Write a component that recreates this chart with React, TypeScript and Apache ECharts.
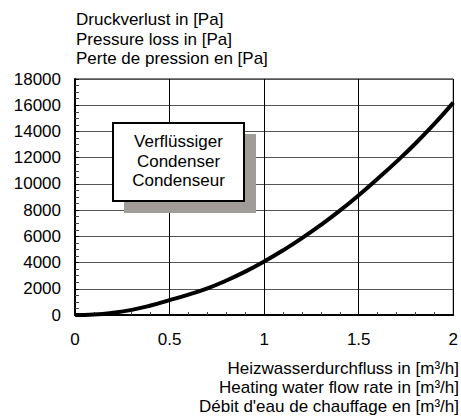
import React, { useEffect, useRef } from "react";
import * as echarts from "echarts";

const flowRates = [0, 0.1, 0.2, 0.3, 0.4, 0.5, 0.6, 0.7, 0.8, 0.9, 1.0, 1.1, 1.2, 1.3, 1.4, 1.5, 1.6, 1.7, 1.8, 1.9, 2.0];
const pressureLoss = [0, 40, 170, 390, 720, 1130, 1560, 2030, 2630, 3310, 4080, 4930, 5860, 6870, 7960, 9140, 10400, 11700, 13080, 14580, 16200];
const yTitleLines = ["Druckverlust in [Pa]", "Pressure loss in [Pa]", "Perte de pression en [Pa]"];
const xTitleLines = ["Heizwasserdurchfluss in [m³/h]", "Heating water flow rate in [m³/h]", "Débit d'eau de chauffage en [m³/h]"];
const boxLines = ["Verflüssiger", "Condenser", "Condenseur"];

const FONT = "Liberation Sans, Arial, Helvetica, sans-serif";
const FS = 17;

export default function App() {
  const ref = useRef<HTMLDivElement>(null);
  useEffect(() => {
    if (!ref.current) return;
    const chart = echarts.init(ref.current, undefined, { renderer: "svg" });
    chart.setOption({
      animation: false,
      backgroundColor: "#fff",
      textStyle: { fontFamily: FONT },
      grid: {
        left: 75,
        top: 79,
        right: 2,
        bottom: 101,
        show: true,
        borderColor: "#000",
        borderWidth: 1,
        backgroundColor: "transparent",
      },
      xAxis: {
        type: "value",
        min: 0,
        max: 2,
        interval: 0.5,
        axisLine: { show: true, lineStyle: { color: "#000", width: 2 } },
        axisTick: { show: true, inside: true, length: 3, lineStyle: { color: "#000" } },
        minorTick: { show: true, splitNumber: 5, length: 3, lineStyle: { color: "#444", width: 1 } },
        splitLine: { show: true, lineStyle: { color: "#000", width: 1 } },
        axisLabel: {
          margin: 16,
          color: "#000",
          fontSize: FS,
          fontFamily: FONT,
          formatter: (v: number) => String(v),
        },
      },
      yAxis: {
        type: "value",
        min: 0,
        max: 18000,
        interval: 2000,
        axisLine: { show: true, lineStyle: { color: "#000", width: 2 } },
        axisTick: { show: true, inside: true, length: 4, lineStyle: { color: "#000" } },
        minorTick: { show: true, splitNumber: 4, length: 4, lineStyle: { color: "#444", width: 1 } },
        splitLine: { show: true, lineStyle: { color: "#555", width: 1 } },
        axisLabel: {
          margin: 14,
          color: "#000",
          fontSize: FS,
          fontFamily: FONT,
          formatter: (v: number) => String(v),
        },
      },
      series: [
        {
          type: "line",
          data: flowRates.map((x, i) => [x, pressureLoss[i]]),
          smooth: true,
          showSymbol: false,
          lineStyle: { color: "#000", width: 4 },
          z: 5,
        },
      ],
      graphic: [
        {
          type: "text",
          x: 76,
          y: 10,
          z: 100,
          style: {
            text: yTitleLines.join("\n"),
            font: `${FS}px ${FONT}`,
            fill: "#000",
            align: "left",
            verticalAlign: "top",
            lineHeight: 19.5,
          },
        },
        {
          type: "text",
          x: 459,
          y: 359,
          z: 100,
          style: {
            text: xTitleLines.join("\n"),
            font: `${FS}px ${FONT}`,
            fill: "#000",
            align: "right",
            verticalAlign: "top",
            lineHeight: 19,
          },
        },
        {
          type: "rect",
          z: 100,
          shape: { x: 124, y: 134, width: 132, height: 79 },
          style: { fill: "#a09d98" },
        },
        {
          type: "rect",
          z: 101,
          shape: { x: 113, y: 123, width: 131, height: 78 },
          style: { fill: "#fff", stroke: "#000", lineWidth: 2 },
        },
        {
          type: "text",
          x: 178.5,
          y: 132,
          z: 102,
          style: {
            text: boxLines.join("\n"),
            font: `${FS}px ${FONT}`,
            fill: "#000",
            align: "center",
            verticalAlign: "top",
            lineHeight: 19.5,
          },
        },
      ],
    });
    return () => chart.dispose();
  }, []);
  return <div ref={ref} style={{ width: 461, height: 416, position: "absolute", left: 0, top: 0 }} />;
}
